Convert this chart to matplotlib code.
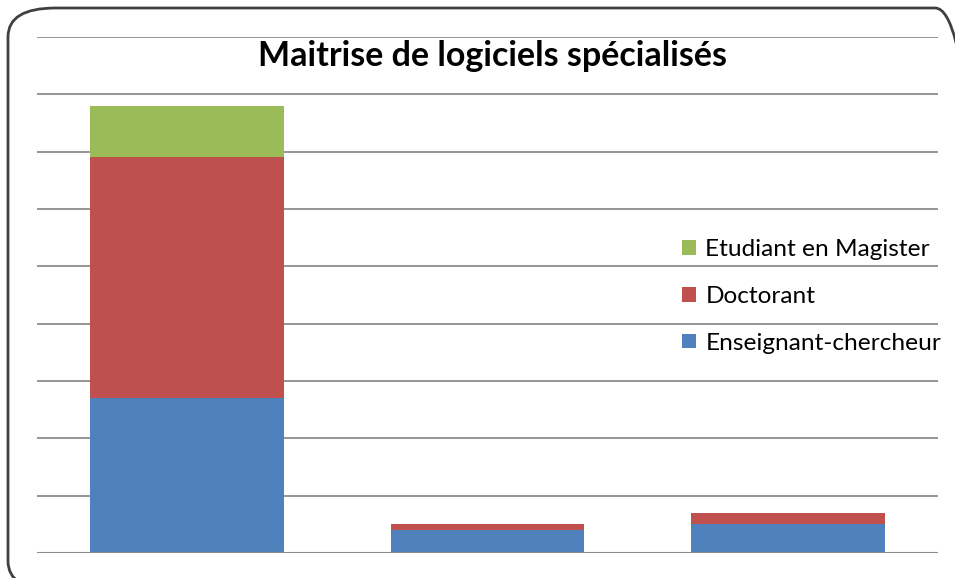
import matplotlib
matplotlib.use("Agg")
import matplotlib.pyplot as plt
from matplotlib.patches import FancyBboxPatch

plt.rcParams['font.family'] = ['Lato', 'DejaVu Sans']

# Data (counts, gridlines every 10)
categories = ['A', 'B', 'C']
enseignants = [27, 4, 5]
doctorants = [42, 1, 2]
magisters = [9, 0, 0]

series_names = ['Enseignant-chercheur', 'Doctorant', 'Etudiant en Magister']
colors = ['#4f81bd', '#c0504d', '#9bbb59']

W, H = 955, 578
fig = plt.figure(figsize=(W / 100, H / 100), dpi=100)
fig.patch.set_facecolor('white')

# rounded chart border (runs off the right/bottom edge like the original)
border = FancyBboxPatch((8 / W, 1 - 590 / H), 975 / W, 582 / H,
                        boxstyle="round,pad=0,rounding_size=0.05",
                        transform=fig.transFigure, fill=False,
                        edgecolor='#404040', linewidth=2, clip_on=False)
fig.patches.append(border)

ax = fig.add_axes([37 / W, 1 - 553 / H, (938 - 37) / W, (553 - 37) / H])
ax.set_facecolor('none')

x = range(len(categories))
bottom2 = [a + b for a, b in zip(enseignants, doctorants)]
b1 = ax.bar(x, enseignants, width=0.645, color=colors[0], zorder=3)
b2 = ax.bar(x, doctorants, width=0.645, bottom=enseignants, color=colors[1], zorder=3)
b3 = ax.bar(x, magisters, width=0.645, bottom=bottom2, color=colors[2], zorder=3)

ax.set_xlim(-0.5, 2.5)
ax.set_ylim(0, 90)
ax.set_yticks(range(0, 91, 10))
ax.yaxis.grid(True, color='#8c8c8c', linewidth=1.3, zorder=0)
ax.tick_params(left=False, bottom=False, labelleft=False, labelbottom=False)
for s in ax.spines.values():
    s.set_visible(False)
ax.axhline(0, color='#8c8c8c', linewidth=1.5, zorder=4)

fig.text(492 / W, 1 - 56 / H, 'Maitrise de logiciels spécialisés',
         ha='center', va='center', fontsize=24.5, fontweight='bold', color='black')

leg = ax.legend([b3, b2, b1], series_names[::-1], loc='upper left',
                bbox_to_anchor=(670 / W, 1 - 227 / H), bbox_transform=fig.transFigure,
                frameon=False, fontsize=17.6, handlelength=0.55, handleheight=0.55,
                handletextpad=0.4, labelspacing=1.05, borderpad=0)

fig.savefig('out.png', dpi=100)
